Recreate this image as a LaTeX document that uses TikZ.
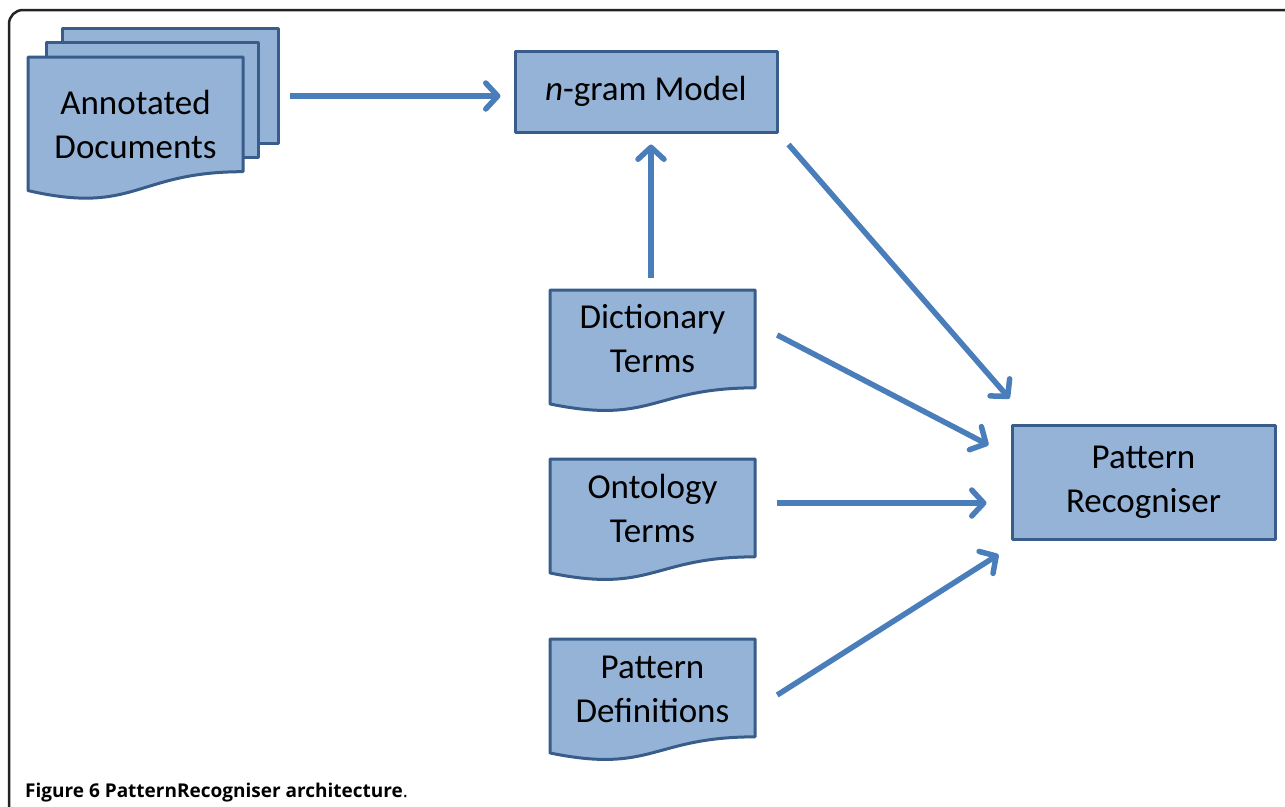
\documentclass[tikz,border=0pt]{standalone}
\usepackage{fontspec}
\setmainfont{Carlito}
\newfontfamily\capfont{Open Sans}
\usetikzlibrary{arrows.meta}
\definecolor{boxfill}{RGB}{149,179,215}
\definecolor{boxline}{RGB}{56,93,138}
\definecolor{arrowblue}{RGB}{74,126,187}
\definecolor{framegray}{RGB}{35,35,35}
\newcommand\docshape[4]{% L T R H
  \path[shapebox] (#1,#2) -- (#3,#2) -- (#3,{#2+0.802*#4})
    .. controls ({(#1+#3)/2},{#2+0.802*#4}) and ({(#1+#3)/2},{#2+1.107*#4}) ..
    (#1,{#2+0.934*#4}) -- cycle;}
\begin{document}
\begin{tikzpicture}[x=1pt,y=-1pt,
  shapebox/.style={fill=boxfill,draw=boxline,line width=3pt,line join=round},
  boxnode/.style={shapebox,rectangle,inner sep=0pt,align=center,font=\fontsize{35}{44}\selectfont},
  textnode/.style={inner sep=0pt,align=center,font=\fontsize{35}{44}\selectfont},
  arr/.style={draw=arrowblue,line width=5.5pt,-{Straight Barb[length=12pt,width=26pt,round]}}]
\useasboundingbox (0,0) rectangle (1285,806);
\fill[white] (0,0) rectangle (1285,806);
\draw[framegray,line width=2.5pt,rounded corners=14pt] (9,810) -- (9,10) -- (1295,10);
% annotated documents stack
\path[shapebox] (62,28) rectangle (278,143);
\path[shapebox] (46,42) rectangle (258,157);
\docshape{28}{57}{243}{143}
\node[textnode,minimum width=215pt,minimum height=120pt] (annot) at (135.5,124) {Annotated\\Documents};
% n-gram model
\node[boxnode,minimum width=262pt,minimum height=81pt] (ngram) at (646,91.5) {\textit{n}-gram Model};
% documents
\docshape{550}{290}{755}{122}
\node[textnode,minimum width=205pt,minimum height=98pt] (dict) at (652.5,339) {Dictionary\\Terms};
\docshape{550}{459}{755}{122}
\node[textnode,minimum width=205pt,minimum height=98pt] (onto) at (652.5,508) {Ontology\\Terms};
\docshape{550}{639}{755}{122}
\node[textnode,minimum width=205pt,minimum height=98pt] (pdef) at (652.5,689) {Pattern\\Definitions};
% pattern recogniser
\node[boxnode,minimum width=263pt,minimum height=114pt] (pr) at (1143.5,482) {Pattern\\Recogniser};
% arrows
\draw[arr] ([shift={(47,-28)}]annot.east) -- ([shift={(-13,4.5)}]ngram.west);
\draw[arr] ([shift={(-1.5,-12)}]dict.north) -- ([shift={(5,11)}]ngram.south);
\draw[arr] ([shift={(10,11)}]ngram.south east) -- ([shift={(-1,-25)}]pr.north west);
\draw[arr] ([shift={(22,-4)}]dict.east) -- ([shift={(-22,-37)}]pr.west);
\draw[arr] ([shift={(22,-5)}]onto.east) -- ([shift={(-24,21)}]pr.west);
\draw[arr] ([shift={(22,6)}]pdef.east) -- ([shift={(-12,14)}]pr.south west);
% caption
\node[anchor=base west,inner sep=0pt,font=\capfont\fontsize{19}{22}\selectfont] (cap) at (25,797) {\textbf{Figure 6 PatternRecogniser architecture}.};
\end{tikzpicture}
\end{document}
